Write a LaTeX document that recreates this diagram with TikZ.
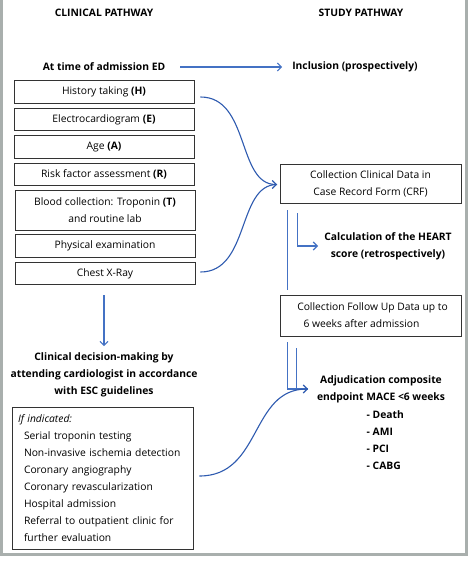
\documentclass[tikz,border=0pt]{standalone}
\usepackage{fontspec}
\setmainfont{Open Sans}
\usetikzlibrary{arrows.meta,calc}
\definecolor{arrowblue}{HTML}{4472C4}
\definecolor{curveblue}{HTML}{2F5BB0}
\definecolor{framegray}{HTML}{A9AFAD}
\newcommand{\dfont}{\fontsize{10.3}{17}\selectfont}
\tikzset{
  every node/.style={font=\dfont, inner sep=0pt},
  box/.style={draw=black!80, line width=0.9pt, minimum width=180pt, minimum height=22.5pt, align=center},
  conn/.style={draw=arrowblue, line width=1.1pt},
  curv/.style={draw=curveblue, line width=1.1pt},
  tip/.style={-{Straight Barb[length=4pt,width=8pt]}},
  lbl/.style={font=\dfont\bfseries, align=center}
}
\begin{document}
\begin{tikzpicture}[x=1pt,y=-1pt]
\useasboundingbox (0,0) rectangle (474,564);
\fill[white] (0,0) rectangle (474,564);
% page frame
\draw[framegray, line width=2.5pt] (1.5,-5) -- (1.5,554.5) -- (466.5,554.5) -- (466.5,-5);
% headings
\node[lbl] (hclin) at (104,13) {CLINICAL PATHWAY};
\node[lbl] (hstudy) at (361,13) {STUDY PATHWAY};
\node[lbl] (adm) at (104,67) {At time of admission ED};
\node[lbl] (incl) at (355,67) {Inclusion (prospectively)};
% left boxes
\node[box] (H) at (104,92) {History taking \textbf{(H)}};
\node[box] (E) at (104,119.5) {Electrocardiogram \textbf{(E)}};
\node[box] (A) at (104,147) {Age \textbf{(A)}};
\node[box] (R) at (104,174.5) {Risk factor assessment \textbf{(R)}};
\node[box, minimum height=40pt] (B) at (105,210) {Blood collection: Troponin \textbf{(T)}\\and routine lab};
\node[box] (P) at (105,246) {Physical examination};
\node[box] (C) at (105,273.5) {Chest X-Ray};
% decision
\node[lbl] (dec) at (104,374.5) {Clinical decision-making by\\attending cardiologist in accordance\\with ESC guidelines};
\node[box, minimum width=181pt, minimum height=142pt, text width=169pt, align=left] (IF) at (102.5,478)
  {\textit{If indicated:}\\
   \hspace*{6pt}Serial troponin testing\\
   \hspace*{6pt}Non-invasive ischemia detection\\
   \hspace*{6pt}Coronary angiography\\
   \hspace*{6pt}Coronary revascularization\\
   \hspace*{6pt}Hospital admission\\
   \hspace*{6pt}Referral to outpatient clinic for\\
   \hspace*{6pt}further evaluation};
% right side
\node[box, minimum width=181pt, minimum height=39pt] (CRF) at (370.5,183.5) {Collection Clinical Data in\\Case Record Form (CRF)};
\node[lbl] (heart) at (388,246.5) {Calculation of the HEART\\score (retrospectively)};
\node[box, minimum width=181pt, minimum height=41pt] (FU) at (370.5,315.5) {\hspace*{4pt}Collection Follow Up Data up to\\6 weeks after admission\hspace*{18pt}};
\node[lbl] (adj) at (381,389.5) {Adjudication composite\\endpoint MACE <6 weeks};
\node[font=\dfont\bfseries, align=left, anchor=west] (list) at (366.5,440.5) {- Death\\- AMI\\ - PCI\\- CABG};
% coordinates
\coordinate (crfin) at (277,184.5);
\coordinate (adjin) at (308,389);
\coordinate (heartin) at (318,246);
% connectors
\draw[conn, tip] (adm.east) ++(15,0) coordinate (a1) -- ($(incl.west)+(-10,0)$);
\draw[curv, tip] ($(H.east)+(6,5)$) .. controls (250,97) and (237,184.5) .. (crfin);
\draw[curv] ($(C.east)+(5,-1.5)$) .. controls (250,272) and (237,184.5) .. (crfin);
\draw[conn, tip] ($(C.south)+(-1,10)$) -- ($(dec.north)+(0,-6)$);
\draw[conn] ($(CRF.south west)+(8,7)$) -- ($(FU.north west)+(8,-5)$);
\draw[conn, tip] ($(CRF.south west)+(18,10)$) |- (heartin);
\draw[conn] ($(FU.south west)+(8,6)$) |- (adjin);
\draw[conn] ($(FU.south west)+(17,12)$) -- ($(FU.south west)+(17,54)$);
\draw[curv, tip] ($(IF.east)+(6,-2)$) .. controls (262,476) and (250,389) .. (adjin);
\end{tikzpicture}
\end{document}
